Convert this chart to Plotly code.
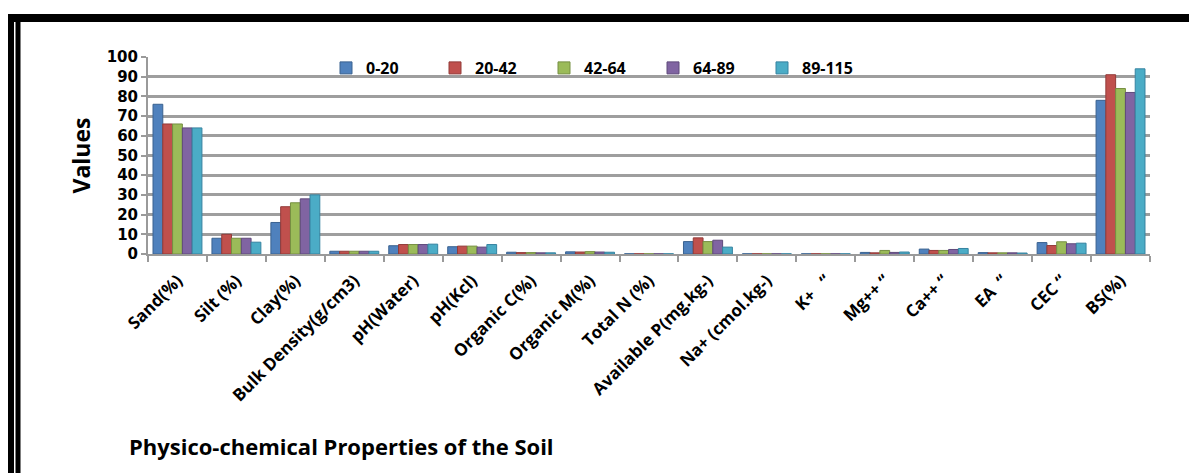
import plotly.graph_objects as go

# soil properties along the x axis
properties = [
    "Sand(%)", "Silt (%)", "Clay(%)", "Bulk Density(g/cm3)", "pH(Water)",
    "pH(Kcl)", "Organic C(%)", "Organic M(%)", "Total N (%)",
    "Available P(mg.kg-)", "Na+ (cmol.kg-)", "K+\u00a0\u00a0\u00a0\u201c",
    "Mg++ \u201c", "Ca++ \u201c", "EA\u00a0\u00a0\u201c", "CEC \u201c", "BS(%)",
]

# one list per soil depth (cm)
depth_0_20 = [76, 8, 16, 1.4, 4.2, 3.7, 0.9, 1.1, 0.1, 6.3, 0.1, 0.1, 0.8, 2.5, 0.7, 5.8, 78]
depth_20_42 = [66, 10, 24, 1.4, 4.8, 4.0, 0.7, 1.0, 0.1, 8.2, 0.1, 0.1, 0.6, 1.8, 0.6, 4.3, 91]
depth_42_64 = [66, 8, 26, 1.4, 4.8, 4.0, 0.7, 1.2, 0.1, 6.3, 0.1, 0.1, 1.8, 1.8, 0.6, 6.2, 84]
depth_64_89 = [64, 8, 28, 1.4, 4.8, 3.5, 0.6, 1.0, 0.1, 7.0, 0.1, 0.1, 0.8, 2.3, 0.6, 5.2, 82]
depth_89_115 = [64, 6, 30, 1.4, 5.0, 4.8, 0.6, 0.9, 0.1, 3.5, 0.1, 0.1, 1.0, 2.8, 0.5, 5.5, 94]

series = [
    ("0-20", depth_0_20, "#4F81BD", "#3A6290"),
    ("20-42", depth_20_42, "#C0504D", "#923B39"),
    ("42-64", depth_42_64, "#9BBB59", "#768F42"),
    ("64-89", depth_64_89, "#8064A2", "#5F4A7B"),
    ("89-115", depth_89_115, "#4BACC6", "#3683A0"),
]

# the page body adds an 8px margin, so the figure is a bit smaller than the window
OFF = 8
W, H = 1197 - OFF, 473 - OFF
L, T = 148 - OFF, 57 - OFF
PW, PH = 1002, 197
R, B = W - L - PW, H - T - PH


def px_x(px):
    # screen pixel -> paper fraction
    return (px - OFF - L) / PW


def px_y(py):
    return (T + PH - (py - OFF)) / PH


FONT = "Open Sans"

fig = go.Figure()
for name, values, color, edge in series:
    fig.add_trace(
        go.Bar(
            x=properties,
            y=values,
            name=name,
            marker={"color": color, "line": {"color": edge, "width": 1}},
        )
    )

frame = [
    (8, 14, 1197, 22),    # top bar
    (8, 14, 14, 473),     # outer left bar
    (15.5, 22, 20.5, 473),  # inner left bar
]
shapes = [
    dict(type="rect", xref="paper", yref="paper",
         x0=px_x(x0), x1=px_x(x1), y0=px_y(y1), y1=px_y(y0),
         fillcolor="black", line={"width": 0}, layer="above")
    for x0, y0, x1, y1 in frame
]

fig.update_layout(
    width=W,
    height=H,
    autosize=False,
    margin={"l": L, "r": R, "t": T, "b": B, "pad": 0},
    paper_bgcolor="white",
    plot_bgcolor="white",
    barmode="group",
    bargap=0.17,
    bargroupgap=0,
    font={"family": FONT, "color": "black"},
    shapes=shapes,
    legend={
        "orientation": "h",
        "x": px_x(326),
        "y": px_y(68),
        "xanchor": "left",
        "yanchor": "middle",
        "bgcolor": "rgba(0,0,0,0)",
        "font": {"family": FONT, "size": 16, "weight": "bold"},
        "itemwidth": 30,
        "entrywidth": 64,
        "traceorder": "normal",
    },
    annotations=[
        dict(
            text="Physico-chemical Properties of the Soil",
            xref="paper", yref="paper",
            x=px_x(127), y=px_y(446),
            xanchor="left", yanchor="middle",
            showarrow=False,
            font={"family": FONT, "size": 22, "weight": "bold"},
        )
    ],
)

fig.update_xaxes(
    tickangle=-45,
    tickfont={"family": FONT, "size": 17, "weight": "bold"},
    ticklabelstandoff=8,
    tickson="boundaries",
    ticks="outside",
    ticklen=6,
    tickcolor="#9a9a9a",
    tickwidth=2,
    showline=True,
    linecolor="#9a9a9a",
    linewidth=2,
    showgrid=False,
)
fig.update_yaxes(
    range=[0, 100],
    dtick=10,
    tickfont={"family": "DejaVu Sans", "size": 15, "weight": "bold"},
    ticks="outside",
    ticklen=5,
    tickcolor="#9a9a9a",
    tickwidth=2,
    showline=True,
    linecolor="#9a9a9a",
    linewidth=2,
    showgrid=True,
    gridcolor="#9e9e9e",
    gridwidth=3,
    zeroline=False,
    title={
        "text": "Values",
        "font": {"family": FONT, "size": 23, "weight": "bold"},
        "standoff": 10,
    },
)

fig.write_html("out.html")
